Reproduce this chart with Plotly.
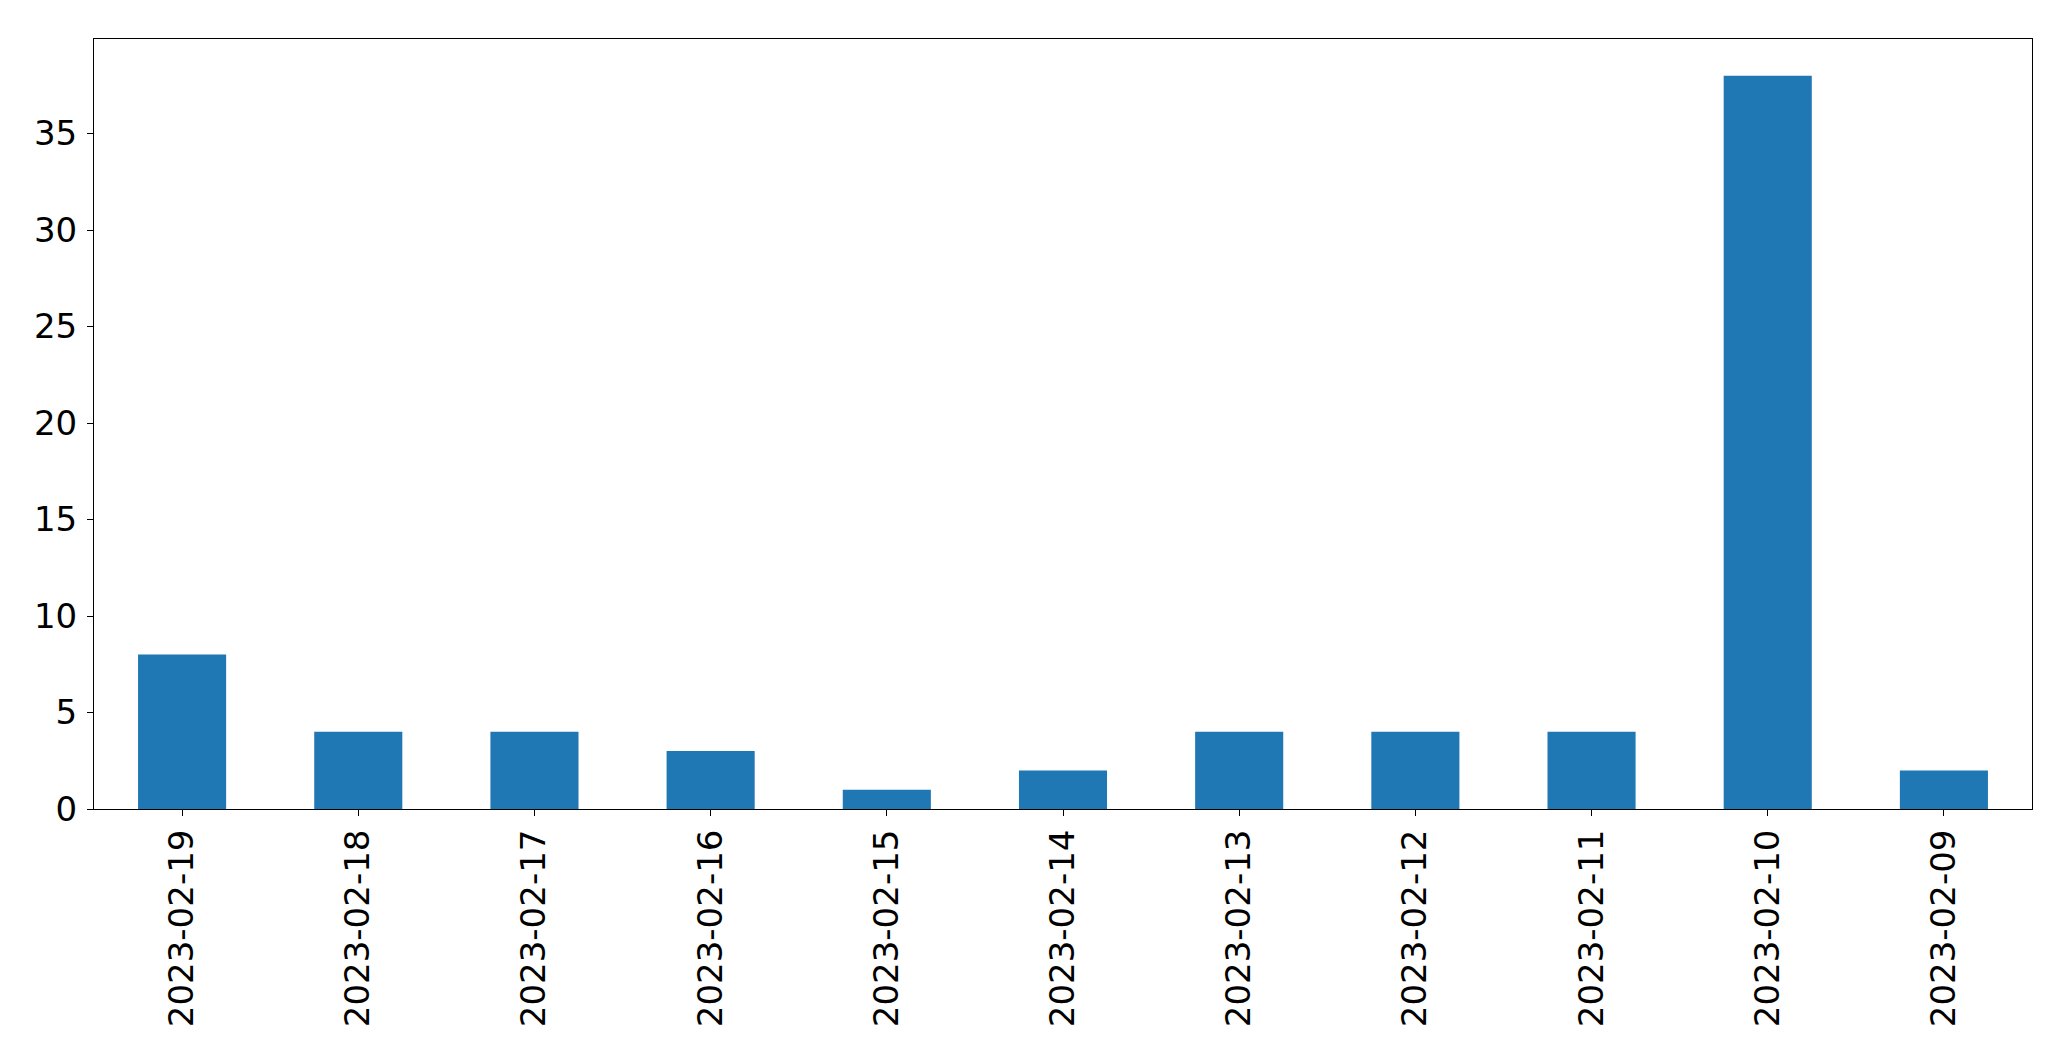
import plotly.graph_objects as go

dates = ["2023-02-19", "2023-02-18", "2023-02-17", "2023-02-16", "2023-02-15",
         "2023-02-14", "2023-02-13", "2023-02-12", "2023-02-11", "2023-02-10", "2023-02-09"]
counts = [8, 4, 4, 3, 1, 2, 4, 4, 4, 38, 2]

fig = go.Figure(go.Bar(x=dates, y=counts, marker=dict(color="#1f77b4", line=dict(width=0))))

fig.update_layout(
    width=2071, height=1061,
    margin=dict(l=94, r=39, t=39, b=252, autoexpand=False),
    paper_bgcolor="white", plot_bgcolor="white",
    bargap=0.5,
    showlegend=False,
    font=dict(family="DejaVu Sans", size=34, color="black"),
)
fig.update_xaxes(
    type="category", range=[-0.5, 10.5], tickangle=-90,
    showline=True, linecolor="black", linewidth=1, mirror=True,
    ticks="outside", ticklen=6, tickcolor="black", showgrid=False,
    ticklabelstandoff=0,
)
fig.update_yaxes(
    range=[0, 39.9], dtick=5, tick0=0,
    showline=True, linecolor="black", linewidth=1, mirror=True,
    ticks="outside", ticklen=6, tickcolor="black", showgrid=False, zeroline=False,
    ticklabelstandoff=3,
)

fig.write_html(
    "out.html",
    config={"displayModeBar": False},
    post_script="document.body.style.margin='0';document.body.style.padding='0';document.body.style.overflow='hidden';",
)
